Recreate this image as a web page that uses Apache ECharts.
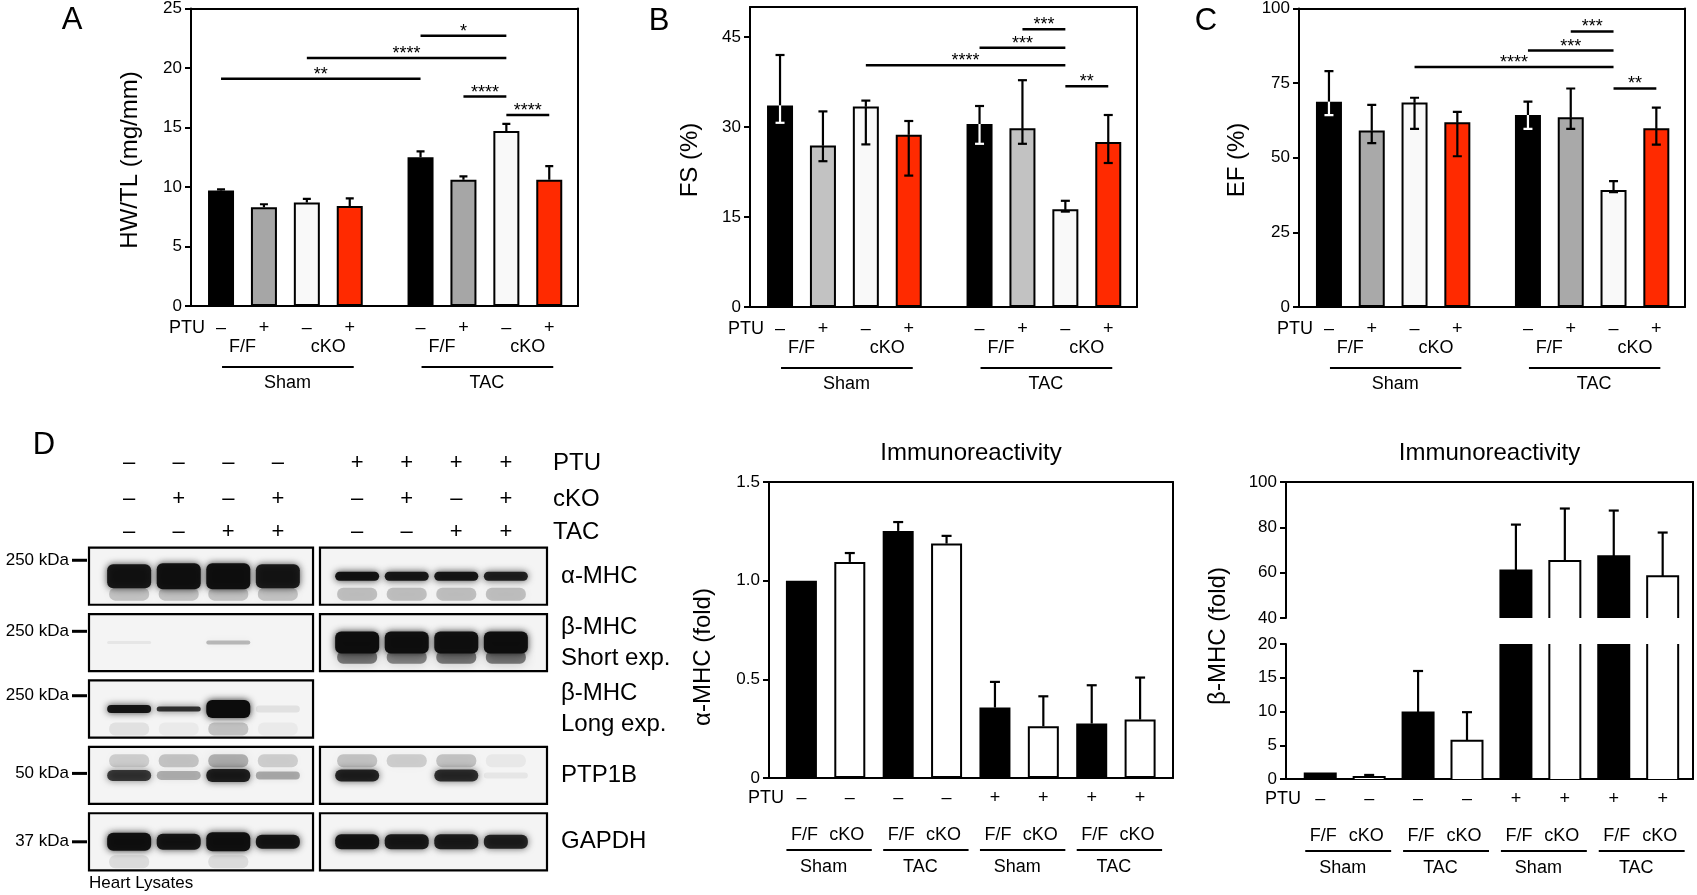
<!DOCTYPE html>
<html><head><meta charset="utf-8">
<script src="https://cdn.jsdelivr.net/npm/echarts@6/dist/echarts.min.js"></script>
<style>html,body{margin:0;padding:0;background:#fff}#c{width:1697px;height:895px}</style>
</head><body><div id="c"></div>
<script>
// ================= DATA =================
// Panels A-C (8 bars: Sham F/F -,+ ; Sham cKO -,+ ; TAC F/F -,+ ; TAC cKO -,+)
const ptuABC = ['–','+','–','+','–','+','–','+'];
const genotypeABC = ['F/F','cKO'];
const groupsABC = ['Sham','TAC'];

const hwtlMean    = [9.7, 8.3, 8.7, 8.4, 12.5, 10.6, 14.7, 10.6];
const hwtlErrHigh = [9.8, 8.55, 9.0, 9.05, 13.0, 10.9, 15.3, 11.75];
const hwtlSig = [[0,4,19.1,'**'],[2,6,20.85,'****'],[4,6,22.7,'*'],[5,6,17.6,'****'],[6,7,16.05,'****']];

const fsMean    = [33.6, 26.9, 33.4, 28.7, 30.5, 29.8, 16.3, 27.5];
const fsErrLow  = [30.7, 24.3, 27.1, 21.9, 27.2, 27.2, 15.9, 24.0];
const fsErrHigh = [42.0, 32.6, 34.4, 31.0, 33.5, 37.8, 17.7, 32.0];
const fsSig = [[5,6,46.3,'***'],[4,6,43.2,'***'],[2,6,40.3,'****'],[6,7,36.8,'**']];

const efMean    = [68.8, 59.1, 68.5, 61.9, 64.3, 63.6, 39.2, 59.9];
const efErrLow  = [64.3, 54.9, 59.7, 50.5, 59.7, 59.7, 38.5, 54.4];
const efErrHigh = [79.0, 67.7, 70.1, 65.4, 68.8, 73.2, 42.2, 66.8];
const efSig = [[5,6,92.3,'***'],[4,6,85.9,'***'],[2,6,80.4,'****'],[6,7,73.2,'**']];

// Panel D quantification
const immunoPtu = ['–','–','–','–','+','+','+','+'];
const immunoGenotype = ['F/F','cKO','F/F','cKO','F/F','cKO','F/F','cKO'];
const immunoGroups = ['Sham','TAC','Sham','TAC'];
const alphaMean    = [1.0, 1.095, 1.252, 1.188, 0.357, 0.262, 0.276, 0.296];
const alphaErrHigh = [null, 1.14, 1.297, 1.227, 0.487, 0.414, 0.47, 0.509];
const betaMean     = [0.8, 0.3, 9.84, 5.66, 61.0, 65.2, 67.2, 58.4];
const betaErrHigh  = [null, 0.6, 16.0, 9.9, 81.2, 88.3, 87.4, 77.7];

// Panel D western blot (8 lanes)
const lanePTU = ['–','–','–','–','+','+','+','+'];
const laneCKO = ['–','+','–','+','–','+','–','+'];
const laneTAC = ['–','–','+','+','–','–','+','+'];
const blotRowLabels = ['α-MHC','β-MHC\nShort exp.','β-MHC\nLong exp.','PTP1B','GAPDH'];
const blotMarkers = ['250 kDa','250 kDa','250 kDa','50 kDa','37 kDa'];
const blotHasRightPanel = [1,1,0,1,1];
const bandIntensity = [
  [0.92,0.95,0.97,0.90, 0.95,0.92,0.93,0.88],
  [0.06,0.00,0.25,0.00, 0.98,0.97,0.96,0.98],
  [0.93,0.80,1.00,0.08, 0,0,0,0],
  [0.75,0.28,0.88,0.30, 0.85,0.02,0.80,0.06],
  [0.97,0.93,0.97,0.92, 0.93,0.90,0.88,0.85]
];
const bandThickness = [
  [24,26,26,24, 9,9,9,9],
  [3,0,4,0, 22,22,22,22],
  [8,5,18,7, 0,0,0,0],
  [11,9,13,8, 12,0,12,6],
  [18,16,19,14, 15,15,15,14]
];
const smearIntensity = [
  [0.20,0.20,0.20,0.20, 0.22,0.22,0.22,0.22],
  [0,0,0,0, 0.50,0.45,0.50,0.50],
  [0.08,0.04,0.20,0.04, 0,0,0,0],
  [0.16,0.20,0.28,0.16, 0.20,0.16,0.20,0.05],
  [0.10,0,0.10,0, 0,0,0,0]
];

// ================= STYLE / LAYOUT =================
const FONT = '"Liberation Sans", Arial, Helvetica, sans-serif';
const colorsA = ['#000000','#a6a6a6','#f9f9f9','#ff2a00','#000000','#a6a6a6','#f9f9f9','#ff2a00'];
const colorsB = ['#000000','#c2c2c2','#f9f9f9','#ff2a00','#000000','#c2c2c2','#f9f9f9','#ff2a00'];
const colorsC = ['#000000','#a9a9a9','#f9f9f9','#ff2a00','#000000','#a9a9a9','#f9f9f9','#ff2a00'];
const colorsD = ['#000000','#ffffff','#000000','#ffffff','#000000','#ffffff','#000000','#ffffff'];
const posABC = ptuABC.map((_, i) => i + (i >= 4 ? 0.65 : 0));
const posD = immunoPtu.map((_, i) => i);
const lanePos = lanePTU.map((_, i) => i + (i >= 4 ? 0.6 : 0));
const blotPanelX = [[-0.81, 3.71], [3.85, 8.43]];
const smearOffset = [0.27, 0.22, 0.3, -0.22, 0.3];

const grids = [
  {left:191, top:6, width:387, height:300},
  {left:750, top:7, width:387, height:300},
  {left:1299, top:6, width:386, height:301},
  {left:769, top:482, width:404, height:296},
  {left:1286, top:482, width:407, height:136},
  {left:1286, top:644, width:407, height:135},
  {left:89, top:543, width:458, height:332}
];

const chart = echarts.init(document.getElementById('c'));
const option = {animation:false, textStyle:{fontFamily:FONT, color:'#000'}, grid:[], xAxis:[], yAxis:[], series:[]};
grids.forEach(g => option.grid.push({left:g.left, top:g.top, width:g.width, height:g.height, show:false}));

function addFrame(g, xr, y, s) {
  const ln = show => ({show, onZero:false, lineStyle:{color:'#000', width:2}});
  const off = {show:false};
  option.xAxis.push({gridIndex:g, type:'value', position:'bottom', min:xr[0], max:xr[1], axisLine:ln(s.bottom), axisTick:off, axisLabel:off, splitLine:off});
  option.xAxis.push({gridIndex:g, type:'value', position:'top', min:xr[0], max:xr[1], axisLine:ln(s.top), axisTick:off, axisLabel:off, splitLine:off});
  option.yAxis.push({gridIndex:g, type:'value', position:'left', min:y.min, max:y.max, interval:y.interval, inverse:!!y.inverse,
    axisLine:ln(s.left),
    axisTick:{show:s.left, inside:false, length:6, lineStyle:{color:'#000', width:2}, customValues:y.custom},
    axisLabel:{show:s.left, fontSize:17, color:'#000', fontFamily:FONT, margin:9, formatter:y.fmt, customValues:y.custom},
    splitLine:off});
  option.yAxis.push({gridIndex:g, type:'value', position:'right', min:y.min, max:y.max, inverse:!!y.inverse, axisLine:ln(s.right), axisTick:off, axisLabel:off, splitLine:off});
}
const all = {bottom:true, top:true, left:true, right:true};
addFrame(0, [-0.7, 8.32], {min:0, max:25, interval:5}, all);
addFrame(1, [-0.7, 8.32], {min:0, max:50, interval:15, custom:[0,15,30,45]}, all);
addFrame(2, [-0.7, 8.32], {min:0, max:100, interval:25}, all);
addFrame(3, [-0.67, 7.68], {min:0, max:1.5, interval:0.5, fmt: v => v === 0 ? '0' : v.toFixed(1)}, all);
addFrame(4, [-0.7, 7.62], {min:40, max:100, interval:20}, {bottom:false, top:true, left:true, right:true});
addFrame(5, [-0.7, 7.62], {min:0, max:20, interval:5}, {bottom:true, top:false, left:true, right:true});
addFrame(6, [-0.81, 8.43], {min:-0.5, max:4.5, inverse:true}, {bottom:false, top:false, left:false, right:false});

function barSeries(g, pos, vals, colors, w) {
  return {type:'bar', xAxisIndex:2*g, yAxisIndex:2*g, barWidth:w, clip:true, silent:true, z:2,
    itemStyle:{borderColor:'#000', borderWidth:2},
    data: vals.map((v, i) => ({value:[pos[i], v], itemStyle:{color:colors[i]}}))};
}
// open-ended bars for the broken axis (clipped to the grid, no border at the break)
function openBarSeries(g, pos, vals, colors, w) {
  return {type:'custom', xAxisIndex:2*g, yAxisIndex:2*g, z:2, silent:true, clip:true,
    encode:{x:0, y:1},
    data: vals.map((v, i) => [pos[i], v]),
    renderItem(params, api) {
      const x = api.value(0), v = api.value(1);
      const p0 = api.coord([x, 0]), p1 = api.coord([x, v]);
      const l = p0[0] - w/2, r = p0[0] + w/2;
      return {type:'group', children:[
        {type:'rect', shape:{x:l, y:p1[1], width:w, height:p0[1]-p1[1]}, style:{fill:colors[params.dataIndex]}},
        {type:'polyline', shape:{points:[[l, p0[1]], [l, p1[1]], [r, p1[1]], [r, p0[1]]]}, style:{fill:'none', stroke:'#000', lineWidth:2}}
      ]};
    }};
}
function errSeries(g, pos, mean, low, high, colors, capHalf) {
  return {type:'custom', xAxisIndex:2*g, yAxisIndex:2*g, z:5, silent:true, clip:true,
    encode:{x:0, y:[1,2,3]},
    data: mean.map((m, i) => [pos[i], m, (low && low[i] != null) ? low[i] : m, high[i] != null ? high[i] : m]),
    renderItem(params, api) {
      const i = params.dataIndex;
      const x = api.value(0), m = api.value(1), lo = api.value(2), hi = api.value(3);
      const pm = api.coord([x, m]), pl = api.coord([x, lo]), ph = api.coord([x, hi]);
      const ch = [];
      const seg = (x1, y1, x2, y2, c) => ch.push({type:'line', shape:{x1, y1, x2, y2}, style:{stroke:c, lineWidth:2.2}});
      if (hi > m) { seg(pm[0], pm[1], ph[0], ph[1], '#000'); seg(ph[0]-capHalf, ph[1], ph[0]+capHalf, ph[1], '#000'); }
      if (lo < m) {
        const c = colors[i] === '#000000' ? '#ffffff' : '#000';
        seg(pl[0], pl[1], pm[0], pm[1], c); seg(pl[0]-capHalf, pl[1], pl[0]+capHalf, pl[1], c);
      }
      return {type:'group', children:ch};
    }};
}
function sigSeries(g, pos, sig) {
  return {type:'custom', xAxisIndex:2*g, yAxisIndex:2*g, z:6, silent:true,
    encode:{x:[0,1], y:2},
    data: sig.map(s => [pos[s[0]], pos[s[1]], s[2]]),
    renderItem(params, api) {
      const a = api.coord([api.value(0), api.value(2)]), b = api.coord([api.value(1), api.value(2)]);
      return {type:'group', children:[
        {type:'line', shape:{x1:a[0], y1:a[1], x2:b[0], y2:b[1]}, style:{stroke:'#000', lineWidth:2.5}},
        {type:'text', x:(a[0]+b[0])/2, y:a[1]-4, style:{text:sig[params.dataIndex][3], fill:'#000', font:'18px ' + FONT,
          align:'center', verticalAlign:'middle', textAlign:'center', textVerticalAlign:'middle'}}
      ]};
    }};
}

option.series.push(barSeries(0, posABC, hwtlMean, colorsA, 26), errSeries(0, posABC, hwtlMean, null, hwtlErrHigh, colorsA, 4), sigSeries(0, posABC, hwtlSig));
option.series.push(barSeries(1, posABC, fsMean, colorsB, 26), errSeries(1, posABC, fsMean, fsErrLow, fsErrHigh, colorsB, 4.5), sigSeries(1, posABC, fsSig));
option.series.push(barSeries(2, posABC, efMean, colorsC, 26), errSeries(2, posABC, efMean, efErrLow, efErrHigh, colorsC, 4.5), sigSeries(2, posABC, efSig));
option.series.push(barSeries(3, posD, alphaMean, colorsD, 31), errSeries(3, posD, alphaMean, null, alphaErrHigh, colorsD, 5));
option.series.push(openBarSeries(4, posD, betaMean, colorsD, 31), errSeries(4, posD, betaMean, null, betaErrHigh, colorsD, 5));
option.series.push(openBarSeries(5, posD, betaMean, colorsD, 31), errSeries(5, posD, betaMean, null, betaErrHigh, colorsD, 5));

// blot boxes (fill), bands, box outlines
const boxData = [];
blotHasRightPanel.forEach((h, r) => { boxData.push([0, r, 0]); if (h) boxData.push([0, r, 1]); });
function boxSeries(fill, z) {
  return {type:'custom', xAxisIndex:12, yAxisIndex:12, z, silent:true, encode:{x:0, y:1}, data:boxData,
    renderItem(params, api) {
      const r = api.value(1), p = api.value(2);
      const a = api.coord([blotPanelX[p][0], r - 0.43]), b = api.coord([blotPanelX[p][1], r + 0.43]);
      return {type:'rect', shape:{x:a[0], y:a[1], width:b[0]-a[0], height:b[1]-a[1]},
        style: fill ? {fill:'#f4f4f4'} : {fill:'none', stroke:'#000', lineWidth:2.2}};
    }};
}
const bandData = [];
bandIntensity.forEach((row, r) => row.forEach((a, l) => {
  bandData.push([lanePos[l], r, smearIntensity[r][l], 13, smearOffset[r], 1]);
  bandData.push([lanePos[l], r, a, bandThickness[r][l], 0, 0]);
}));
option.series.push(boxSeries(true, 1));
option.series.push({type:'custom', xAxisIndex:12, yAxisIndex:12, z:2, silent:true, clip:true, encode:{x:0, y:1}, data:bandData,
  renderItem(params, api) {
    const x = api.value(0), r = api.value(1), a = api.value(2), t = api.value(3), off = api.value(4), smear = api.value(5);
    if (!(a > 0) || !(t > 0)) return {type:'group', children:[]};
    const c = api.coord([x, r + off]);
    const w = smear ? 40 : 44;
    return {type:'rect', shape:{x:c[0]-w/2, y:c[1]-t/2, width:w, height:t, r:Math.min(t/2, 6)},
      style:{fill:'rgba(12,12,12,' + a + ')', shadowBlur: smear ? 12 : 7, shadowColor:'rgba(12,12,12,' + (a*0.9) + ')'}};
  }});
option.series.push(boxSeries(false, 4));

chart.setOption(option);

// ================= ANNOTATIONS =================
const els = [];
const px = (ax, v) => chart.convertToPixel({xAxisIndex:ax}, v);
const py = (ax, v) => chart.convertToPixel({yAxisIndex:ax}, v);
function T(text, x, y, size, align, valign, extra) {
  align = align || 'center'; valign = valign || 'middle';
  els.push(Object.assign({type:'text', x, y, silent:true, z:10,
    style:{text, fill:'#000', font:size + 'px ' + FONT, align, verticalAlign:valign, textAlign:align, textVerticalAlign:valign, lineHeight:31}}, extra || {}));
}
function L(x1, y1, x2, y2, w) { els.push({type:'line', silent:true, z:10, shape:{x1, y1, x2, y2}, style:{stroke:'#000', lineWidth:w || 2}}); }

// panel letters
T('A', 72, 20, 31); T('B', 659, 21, 31); T('C', 1206, 21, 31); T('D', 44, 445, 31);
// y titles
const rot = {rotation: Math.PI / 2};
T('HW/TL (mg/mm)', 130, 160, 24, 'center', 'middle', rot);
T('FS (%)', 690, 160, 24, 'center', 'middle', rot);
T('EF (%)', 1237, 160, 24, 'center', 'middle', rot);
T('α-MHC (fold)', 703, 657, 24, 'center', 'middle', rot);
T('β-MHC (fold)', 1218, 636, 24, 'center', 'middle', rot);

// A-C bottom labels
[0, 1, 2].forEach(g => {
  const gr = grids[g], b = gr.top + gr.height;
  const xs = posABC.map(p => px(2*g, p));
  T('PTU', gr.left + 14, b + 22, 18, 'right');
  ptuABC.forEach((s, i) => T(s, xs[i], b + 22, 18));
  [0, 1].forEach(k => {
    T(genotypeABC[0], (xs[4*k] + xs[4*k+1]) / 2, b + 41, 18);
    T(genotypeABC[1], (xs[4*k+2] + xs[4*k+3]) / 2, b + 41, 18);
    L(xs[4*k] + 1, b + 61, xs[4*k+3] + 4, b + 61, 2);
    T(groupsABC[k], (xs[4*k] + xs[4*k+3]) / 2 + 2, b + 77, 18);
  });
});

// D charts bottom labels and titles
[[3, 3], [5, 4]].forEach(([g, gt]) => {
  const gr = grids[g], b = gr.top + gr.height;
  const xs = posD.map(p => px(2*g, p));
  T('Immunoreactivity', grids[gt].left + grids[gt].width / 2, 453, 24);
  T('PTU', gr.left + 15, b + 20, 18, 'right');
  immunoPtu.forEach((s, i) => T(s, xs[i], b + 20, 18));
  immunoGenotype.forEach((s, i) => T(s, xs[i] + (i % 2 ? -3 : 3), b + 57, 18));
  immunoGroups.forEach((s, k) => {
    L(xs[2*k] - 15, b + 72, xs[2*k+1] + 22, b + 72, 2);
    T(s, (xs[2*k] + xs[2*k+1]) / 2 - 2, b + 89, 18);
  });
});
// broken-axis right border connector
L(grids[4].left + grids[4].width, grids[4].top + grids[4].height, grids[5].left + grids[5].width, grids[5].top, 2);

// blot annotations
const lx = lanePos.map(p => px(12, p));
const bt = grids[6].top;
[[lanePTU, 'PTU', -80], [laneCKO, 'cKO', -44], [laneTAC, 'TAC', -11]].forEach(([arr, name, dy]) => {
  arr.forEach((s, i) => T(s, lx[i], bt + dy, 22));
  T(name, 553, bt + dy, 24, 'left');
});
const mOff = [-0.24, -0.17, -0.2, -0.03, 0];
blotRowLabels.forEach((s, r) => {
  T(s, 561, py(12, r), 24, 'left');
  const my = py(12, r + mOff[r]);
  els.push({type:'rect', silent:true, z:10, shape:{x:72, y:my - 1.5, width:15, height:3}, style:{fill:'#000'}});
  T(blotMarkers[r], 69, my, 17, 'right');
});
T('Heart Lysates', 89, 883, 17, 'left');

chart.setOption({graphic: els});
</script></body></html>
